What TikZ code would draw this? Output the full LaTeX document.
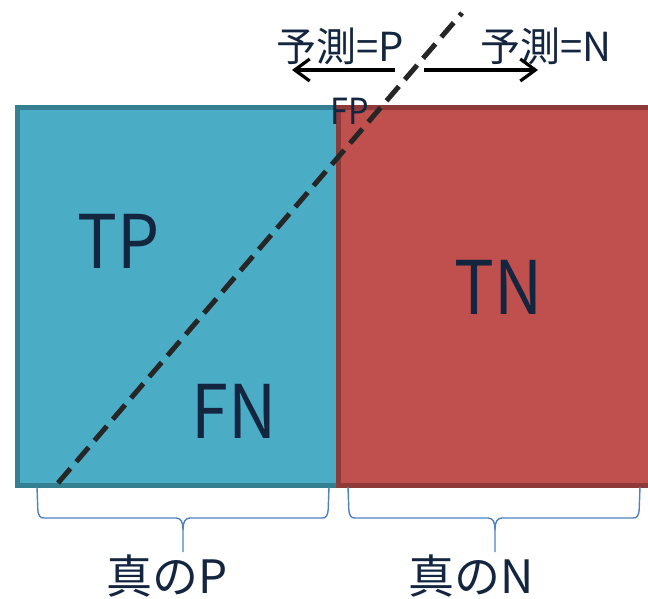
\documentclass[tikz,border=0pt]{standalone}
\usepackage{fontspec}
\newfontfamily\cjk{Noto Sans CJK JP}
\usetikzlibrary{arrows.meta,calc}
\definecolor{txt}{HTML}{13253F}
\definecolor{bluefill}{HTML}{4BACC6}
\definecolor{blueedge}{HTML}{357F92}
\definecolor{redfill}{HTML}{C0504D}
\definecolor{rededge}{HTML}{8E3A38}
\definecolor{bracec}{HTML}{4F81BD}
\definecolor{dashc}{HTML}{262626}
\tikzset{
  lbl/.style={text=txt, inner sep=0pt, anchor=base},
  big/.style={lbl, xscale=0.9, font=\cjk\fontsize{74}{74}\selectfont},
  mid/.style={lbl, font=\cjk\fontsize{40}{40}\selectfont},
  bottomlbl/.style={lbl, font=\cjk\fontsize{46}{46}\selectfont},
  small/.style={lbl, xscale=0.9, font=\cjk\fontsize{36}{36}\selectfont},
  predarrow/.style={line width=3.2pt, -{Straight Barb[length=15pt,width=22pt]}},
  bracepath/.style={draw=bracec, line width=1.4pt},
}
\newcommand\mybrace[3]{%
  \draw[bracepath] (#1) -- ($(#1)+(0.8,22)$)
    .. controls ($(#1)+(1.3,29)$) and ($(#1)+(3,31)$) .. ($(#1)+(7,31)$)
    -- ($(#2)+(-7,-34)$)
    .. controls ($(#2)+(-2,-34)$) and ($(#2)+(0,-30)$) .. ($(#2)+(0,-22)$)
    -- (#2);
  \draw[bracepath] (#3) -- ($(#3)+(-0.8,22)$)
    .. controls ($(#3)+(-1.3,29)$) and ($(#3)+(-3,31)$) .. ($(#3)+(-7,31)$)
    -- ($(#2)+(7,-34)$)
    .. controls ($(#2)+(2,-34)$) and ($(#2)+(0,-30)$) .. ($(#2)+(0,-22)$);
}
\begin{document}
\begin{tikzpicture}[x=1pt,y=-1pt]
\useasboundingbox (0,0) rectangle (648,599);
% regions
\draw[fill=bluefill, draw=blueedge, line width=4.5pt] (17.5,107.5) rectangle (338,485.5);
\draw[fill=redfill, draw=rededge, line width=4.5pt] (338.5,107.5) rectangle (660,485.5);
% labels
\node[big] (tp) at (119,268) {TP};
\node[big] (fn) at (234,438) {FN};
\node[big] (tn) at (499,314) {TN};
\node[small] (fp) at (350,125) {FP};
\node[mid] (pp) at (340,62) {予測=P};
\node[mid] (pn) at (546,62) {予測=N};
\node[bottomlbl] (tpp) at (167,593) {真のP};
\node[bottomlbl] (tnn) at (471,593) {真のN};
% dashed boundary
\coordinate (d1) at (58,483);
\coordinate (d2) at (462,13);
\draw[dashc, line width=5pt, dash pattern=on 19pt off 9pt] (d1) -- (d2);
% arrows
\coordinate (a1) at (395,70);
\coordinate (a2) at (292,70);
\coordinate (b1) at (424,70);
\coordinate (b2) at (538,70);
\draw[predarrow] (a1) -- (a2);
\draw[predarrow] (b1) -- (b2);
% braces
\coordinate (l1) at (37,487);
\coordinate (lc) at (183,552);
\coordinate (l2) at (329,487);
\coordinate (r1) at (348,487);
\coordinate (rc) at (495,552);
\coordinate (r2) at (640,487);
\mybrace{l1}{lc}{l2}
\mybrace{r1}{rc}{r2}
\end{tikzpicture}
\end{document}
